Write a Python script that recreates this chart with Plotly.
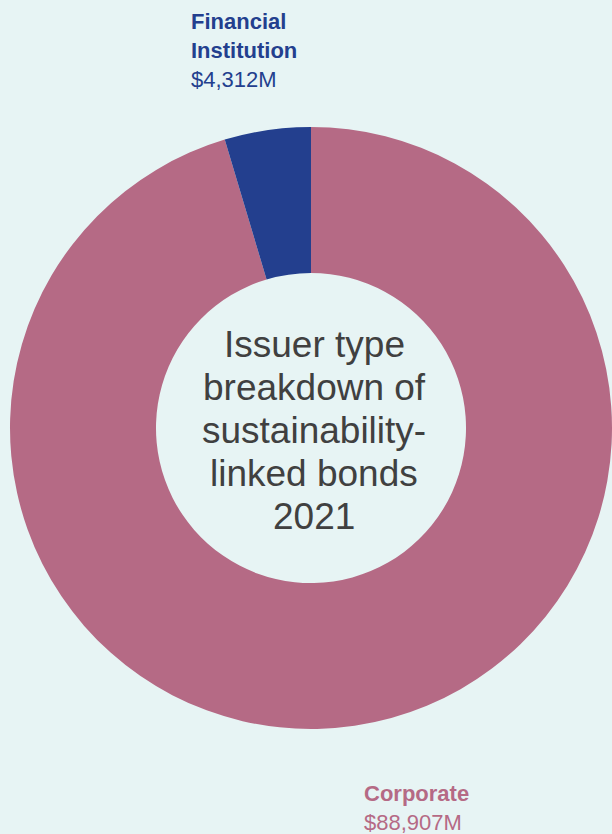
import plotly.graph_objects as go

# Issuer type breakdown of sustainability-linked bonds, 2021 (USD millions)
issuer_types = ["Financial Institution", "Corporate"]
label_lines = [["Financial", "Institution"], ["Corporate"]]
amounts = [4312, 88907]
colors = ["#233F8E", "#B56A85"]
title_lines = ["Issuer type", "breakdown of", "sustainability-", "linked bonds", "2021"]

BG = "#E7F4F4"
W, H = 612, 834
M = dict(l=10, r=0, t=126, b=104)
FONT = "Liberation Sans, Arial, Helvetica, sans-serif"

# drawn clockwise from 12 o'clock with Corporate first, so the
# Financial Institution slice ends at the top (left of 12 o'clock)
fig = go.Figure(go.Pie(
    labels=issuer_types[::-1],
    values=amounts[::-1],
    hole=0.515,
    sort=False,
    direction="clockwise",
    rotation=0,
    marker=dict(colors=colors[::-1], line=dict(width=0)),
    textinfo="none",
    hoverinfo="label+value",
    showlegend=False,
))


def px_to_paper(x, y):
    pw = W - M["l"] - M["r"]
    ph = H - M["t"] - M["b"]
    return (x - M["l"]) / pw, (H - M["b"] - y) / ph


def add_line(text, px, py, size, color, xanchor="left"):
    ax, ay = px_to_paper(px, py)
    fig.add_annotation(
        text=text, x=ax, y=ay, xref="paper", yref="paper",
        xanchor=xanchor, yanchor="middle", showarrow=False,
        font=dict(family=FONT, size=size, color=color),
    )


# slice labels: bold name lines + regular amount line
label_pos = [(189, 21), (362, 793)]
for lines, amount, color, (px, py) in zip(label_lines, amounts, colors, label_pos):
    rows = [f"<b>{s}</b>" for s in lines] + [f"${amount:,}M"]
    for i, row in enumerate(rows):
        add_line(row, px, py + i * 29, 22, color)

# centre title
for i, row in enumerate(title_lines):
    add_line(row, 314, 344 + i * 43, 37, "#404040", xanchor="center")

fig.update_layout(
    width=W, height=H,
    margin=M,
    paper_bgcolor=BG,
    plot_bgcolor=BG,
)

fig.write_html("out.html", config={"displayModeBar": False},
               post_script="document.body.style.margin='0';")
